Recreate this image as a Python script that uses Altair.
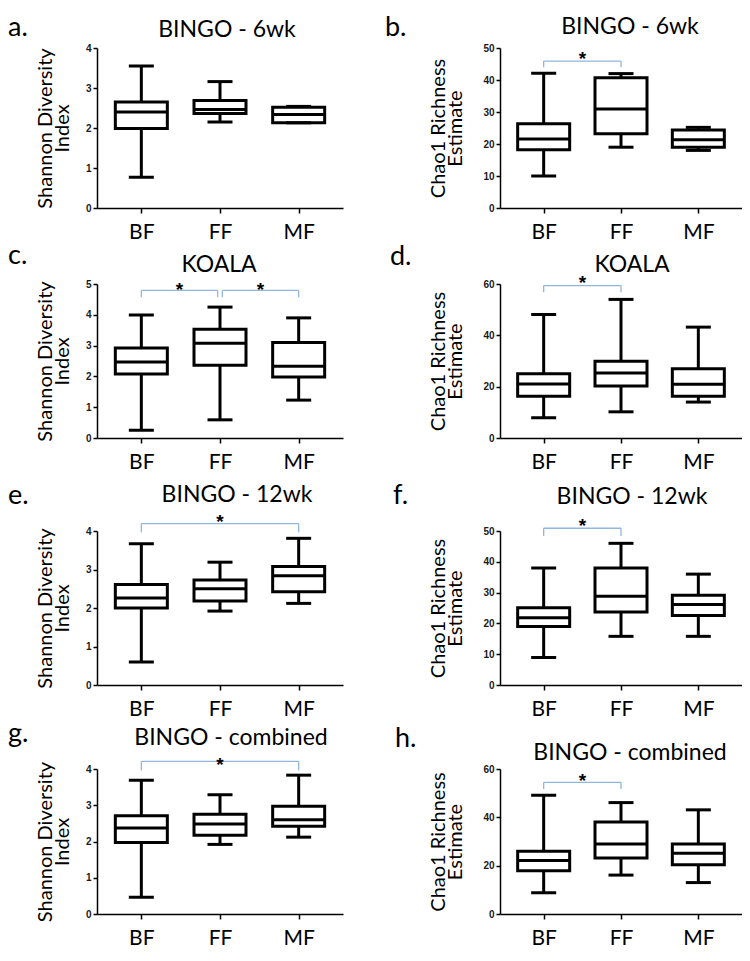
import altair as alt
import pandas as pd

groups = ["BF", "FF", "MF"]
group_pos = [0, 1, 2]

# a. BINGO - 6wk, Shannon
a_min = [0.77, 2.15, 2.13]
a_q1 = [1.99, 2.36, 2.13]
a_med = [2.40, 2.46, 2.34]
a_q3 = [2.65, 2.69, 2.52]
a_max = [3.55, 3.16, 2.54]

# b. BINGO - 6wk, Chao1
b_min = [10.0, 19.0, 18.0]
b_q1 = [18.2, 23.2, 19.0]
b_med = [21.6, 30.9, 21.3]
b_q3 = [26.3, 40.7, 24.4]
b_max = [42.1, 42.0, 25.2]

# c. KOALA, Shannon
c_min = [0.25, 0.59, 1.23]
c_q1 = [2.08, 2.36, 1.98]
c_med = [2.47, 3.08, 2.33]
c_q3 = [2.92, 3.53, 3.10]
c_max = [3.99, 4.25, 3.90]

# d. KOALA, Chao1
d_min = [7.9, 10.2, 14.0]
d_q1 = [16.3, 20.3, 16.3]
d_med = [21.0, 25.3, 20.9]
d_q3 = [25.0, 29.9, 27.0]
d_max = [48.1, 54.0, 43.2]

# e. BINGO - 12wk, Shannon
e_min = [0.60, 1.92, 2.12]
e_q1 = [2.00, 2.18, 2.42]
e_med = [2.26, 2.50, 2.84]
e_q3 = [2.61, 2.73, 3.08]
e_max = [3.67, 3.19, 3.81]

# f. BINGO - 12wk, Chao1
f_min = [8.9, 15.8, 15.8]
f_q1 = [19.0, 23.7, 22.6]
f_med = [21.8, 28.8, 26.1]
f_q3 = [25.1, 38.0, 29.1]
f_max = [38.0, 46.0, 36.0]

# g. BINGO - combined, Shannon
g_min = [0.46, 1.92, 2.12]
g_q1 = [1.97, 2.17, 2.42]
g_med = [2.37, 2.48, 2.60]
g_q3 = [2.71, 2.75, 2.97]
g_max = [3.69, 3.29, 3.83]

# h. BINGO - combined, Chao1
h_min = [8.8, 16.1, 13.0]
h_q1 = [17.9, 23.2, 20.4]
h_med = [22.1, 29.0, 25.1]
h_q3 = [26.0, 38.1, 29.0]
h_max = [49.1, 46.1, 43.1]

# significance brackets: start, end, bar level, leg bottom, star level
b_br = [(0, 1, 45.9, 44.0, 48.1)]
c_br = [(0, 0.97, 4.79, 4.57, 4.98), (1.03, 2, 4.79, 4.57, 4.98)]
d_br = [(0, 1, 59.4, 56.8, 62.3)]
e_br = [(0, 2, 4.19, 3.97, 4.37)]
f_br = [(0, 1, 50.9, 48.4, 53.4)]
g_br = [(0, 2, 4.21, 3.96, 4.26)]
h_br = [(0, 1, 54.5, 51.7, 57.1)]

SH_TITLE = ["Shannon Diversity", "Index"]
CH_TITLE = ["Chao1 Richness", "Estimate"]
BRACKET = "#92b6dc"
LABEL_EXPR = "[" + ",".join("'" + g + "'" for g in groups) + "][datum.value]"


def panel(letter, title, ytitle, ymax, ystep, mins, q1s, meds, q3s, maxs,
          brackets, w, h, letter_xy, title_xy, tpad):
    df = pd.DataFrame({"x": group_pos, "mn": mins, "q1": q1s,
                       "med": meds, "q3": q3s, "mx": maxs})
    xs = alt.Scale(domain=[-0.5, 2.5], nice=False, zero=False)
    ys = alt.Scale(domain=[0, ymax], nice=False, zero=True)
    xax = alt.Axis(values=group_pos, labelExpr=LABEL_EXPR, title=None)
    yax = alt.Axis(values=list(range(0, ymax + 1, ystep)), format="d", title=ytitle,
                   titlePadding=tpad)

    def X(f):
        return alt.X(f, scale=xs, axis=xax)

    def Y(f):
        return alt.Y(f, scale=ys, axis=yax)

    base = alt.Chart(df)
    whisk = base.mark_rule(color="black", strokeWidth=3).encode(
        x=X("x:Q"), y=Y("mn:Q"), y2="mx:Q")
    box = base.mark_bar(size=52, fill="white", stroke="black", strokeWidth=3).encode(
        x=X("x:Q"), y=Y("q1:Q"), y2="q3:Q")
    cap_lo = base.mark_tick(orient="horizontal", size=25, thickness=3, color="black",
                            opacity=1).encode(x=X("x:Q"), y=Y("mn:Q"))
    cap_hi = base.mark_tick(orient="horizontal", size=25, thickness=3, color="black",
                            opacity=1).encode(x=X("x:Q"), y=Y("mx:Q"))
    med = base.mark_tick(orient="horizontal", size=52, thickness=3, color="black",
                         opacity=1).encode(x=X("x:Q"), y=Y("med:Q"))
    layers = [whisk, box, cap_lo, cap_hi, med]
    if brackets:
        bdf = pd.DataFrame({
            "x1": [b[0] for b in brackets],
            "x2": [b[1] for b in brackets],
            "top": [b[2] for b in brackets],
            "leg": [b[3] for b in brackets],
            "star": [b[4] for b in brackets],
        })
        bdf["mid"] = (bdf["x1"] + bdf["x2"]) / 2
        bb = alt.Chart(bdf)
        layers.append(bb.mark_rule(color=BRACKET, strokeWidth=1.3).encode(
            x=X("x1:Q"), x2="x2:Q", y=Y("top:Q")))
        layers.append(bb.mark_rule(color=BRACKET, strokeWidth=1.3).encode(
            x=X("x1:Q"), y=Y("top:Q"), y2="leg:Q"))
        layers.append(bb.mark_rule(color=BRACKET, strokeWidth=1.3).encode(
            x=X("x2:Q"), y=Y("top:Q"), y2="leg:Q"))
        layers.append(bb.mark_text(text="*", font="Liberation Sans", fontSize=19,
                                   fontWeight="bold", color="black",
                                   baseline="middle", dy=5).encode(
            x=X("mid:Q"), y=Y("star:Q")))
    tdf = pd.DataFrame({"letter": [letter], "title": [title]})
    tb = alt.Chart(tdf)
    layers.append(tb.mark_text(font="Lato", fontSize=27, color="black", align="left",
                               baseline="alphabetic").encode(
        text="letter:N", x=alt.value(letter_xy[0]), y=alt.value(letter_xy[1])))
    layers.append(tb.mark_text(font="Lato", fontSize=23, color="black", align="center",
                               baseline="alphabetic").encode(
        text="title:N", x=alt.value(title_xy[0]), y=alt.value(title_xy[1])))
    return alt.layer(*layers).properties(width=w, height=h)


def spacer(wid, hgt):
    return alt.Chart(pd.DataFrame({"s": [0]})).mark_point(opacity=0).properties(
        width=wid, height=hgt)


WL, WR = 246, 242
pa = panel("a.", "BINGO - 6wk", SH_TITLE, 4, 1, a_min, a_q1, a_med, a_q3, a_max,
           [], WL, 160, (-89, -12), (130, -11), 13)
pb = panel("b.", "BINGO - 6wk", CH_TITLE, 50, 10, b_min, b_q1, b_med, b_q3, b_max,
           b_br, WR, 160, (-115, -12), (130, -14), 17)
pc = panel("c.", "KOALA", SH_TITLE, 5, 1, c_min, c_q1, c_med, c_q3, c_max,
           c_br, WL, 154, (-89, -20), (122, -12), 13)
pd_ = panel("d.", "KOALA", CH_TITLE, 60, 20, d_min, d_q1, d_med, d_q3, d_max,
            d_br, WR, 154, (-110, -19), (132, -12), 17)
pe = panel("e.", "BINGO - 12wk", SH_TITLE, 4, 1, e_min, e_q1, e_med, e_q3, e_max,
           e_br, WL, 154, (-89, -27), (140, -29), 13)
pf = panel("f.", "BINGO - 12wk", CH_TITLE, 50, 10, f_min, f_q1, f_med, f_q3, f_max,
           f_br, WR, 154, (-107, -27), (132, -27), 17)
pg = panel("g.", "BINGO - combined", SH_TITLE, 4, 1, g_min, g_q1, g_med, g_q3, g_max,
           g_br, WL, 145, (-89, -27), (134, -24), 13)
ph = panel("h.", "BINGO - combined", CH_TITLE, 60, 20, h_min, h_q1, h_med, h_q3, h_max,
           h_br, WR, 145, (-105, -22), (130, -9), 17)

chart = alt.concat(
    pa, pb,
    spacer(WL, 76), spacer(WR, 76),
    pc, pd_,
    spacer(WL, 93), spacer(WR, 93),
    pe, pf,
    spacer(WL, 84), spacer(WR, 84),
    pg, ph,
    columns=2, spacing={"row": 0, "column": 157}, bounds="flush"
).properties(
    padding={"top": 6, "left": 0, "right": 0, "bottom": 0}
).configure_view(stroke=None).configure_axis(
    grid=False, domainColor="black", domainWidth=1.5, tickColor="black", tickWidth=1.5,
    labelFont="Liberation Sans", labelFontWeight="bold", labelFontSize=10,
    labelColor="#1a1a1a", titleFont="Lato", titleFontSize=20, titleFontWeight="normal",
    titleColor="black", titleLineHeight=17
).configure_axisX(
    tickSize=5, labelFont="Lato", labelFontWeight="normal", labelFontSize=21,
    labelPadding=8, labelColor="black"
).configure_axisY(
    tickSize=4, labelPadding=2
)

chart.save("out.html", embed_options={"renderer": "svg", "actions": False})
